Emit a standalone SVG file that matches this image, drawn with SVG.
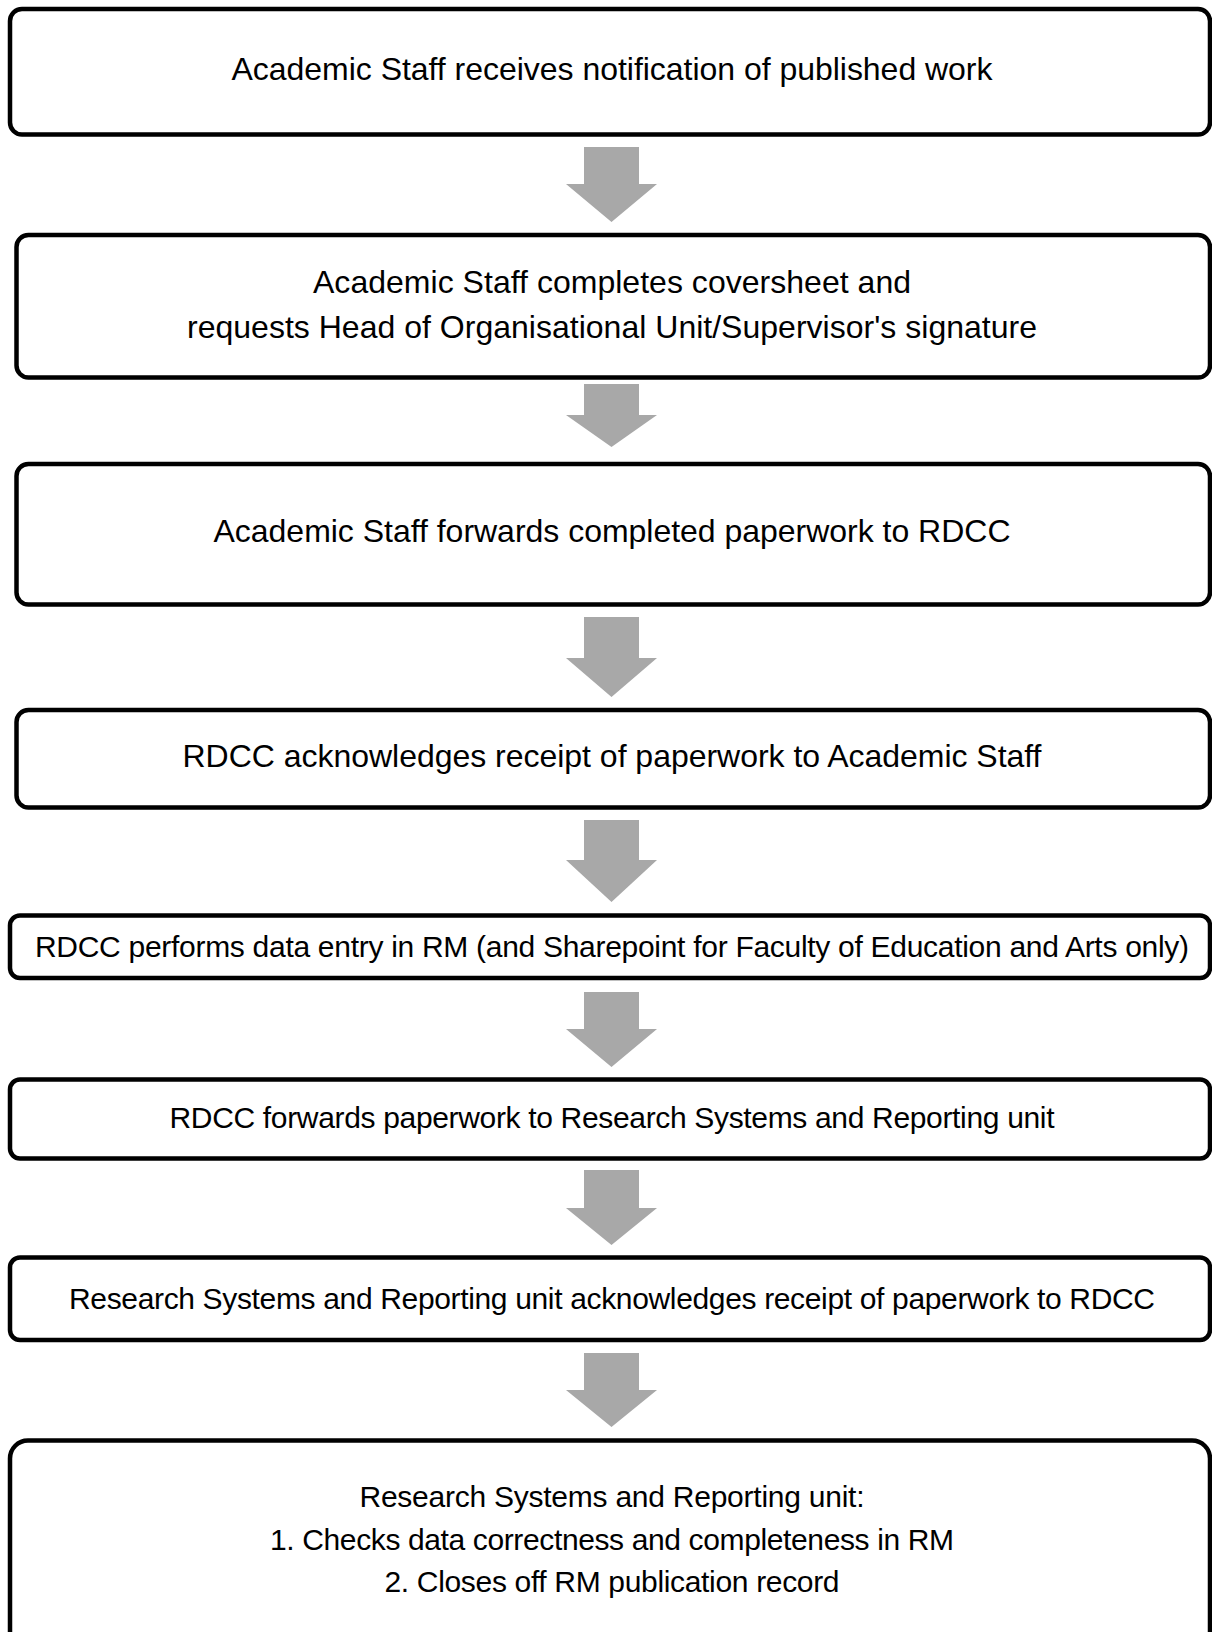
<svg xmlns="http://www.w3.org/2000/svg" width="1212" height="1632" viewBox="0 0 1212 1632">
<style>
.box{fill:#fff;stroke:#000;stroke-width:4.5}
.t{font-family:"Liberation Sans",Arial,sans-serif;font-size:30px;fill:#000;text-anchor:middle}
.big{font-size:32px}
.arr{fill:#a8a8a8}
</style>
<rect width="1212" height="1632" fill="#fff"/>
<g id="connectors">
<polygon class="arr" points="584,147 639,147 639,184 657,184 611.5,222 566,184 584,184"/>
<polygon class="arr" points="584,384 639,384 639,415 657,415 611.5,447 566,415 584,415"/>
<polygon class="arr" points="584,617 639,617 639,658 657,658 611.5,697 566,658 584,658"/>
<polygon class="arr" points="584,820 639,820 639,860 657,860 611.5,902 566,860 584,860"/>
<polygon class="arr" points="584,992 639,992 639,1029 657,1029 611.5,1067 566,1029 584,1029"/>
<polygon class="arr" points="584,1170 639,1170 639,1208 657,1208 611.5,1245 566,1208 584,1208"/>
<polygon class="arr" points="584,1353 639,1353 639,1390 657,1390 611.5,1427 566,1390 584,1390"/>
</g>
<g id="n1">
<rect class="box" x="10" y="9" width="1200" height="125.5" rx="12"/>
<text class="t big" x="612" y="80" textLength="761" lengthAdjust="spacing">Academic Staff receives notification of published work</text>
</g>
<g id="n2">
<rect class="box" x="16.5" y="235" width="1193.5" height="142.5" rx="12"/>
<text class="t big" x="612" y="293" textLength="598" lengthAdjust="spacing">Academic Staff completes coversheet and</text>
<text class="t big" x="612" y="338" textLength="850" lengthAdjust="spacing">requests Head of Organisational Unit/Supervisor's signature</text>
</g>
<g id="n3">
<rect class="box" x="16.5" y="464" width="1193.5" height="140.5" rx="12"/>
<text class="t big" x="612" y="542" textLength="797" lengthAdjust="spacing">Academic Staff forwards completed paperwork to RDCC</text>
</g>
<g id="n4">
<rect class="box" x="16.5" y="710" width="1193.5" height="97.5" rx="12"/>
<text class="t big" x="612" y="767" textLength="859" lengthAdjust="spacing">RDCC acknowledges receipt of paperwork to Academic Staff</text>
</g>
<g id="n5">
<rect class="box" x="10" y="915.5" width="1200" height="62.5" rx="10"/>
<text class="t" x="612" y="957" textLength="1154" lengthAdjust="spacing">RDCC performs data entry in RM (and Sharepoint for Faculty of Education and Arts only)</text>
</g>
<g id="n6">
<rect class="box" x="10" y="1079.5" width="1200" height="79" rx="10"/>
<text class="t" x="612" y="1128" textLength="885" lengthAdjust="spacing">RDCC forwards paperwork to Research Systems and Reporting unit</text>
</g>
<g id="n7">
<rect class="box" x="10" y="1257.5" width="1200" height="82.5" rx="10"/>
<text class="t" x="612" y="1309" textLength="1086" lengthAdjust="spacing">Research Systems and Reporting unit acknowledges receipt of paperwork to RDCC</text>
</g>
<g id="n8">
<rect class="box" x="10" y="1440.5" width="1200" height="210" rx="18"/>
<text class="t" x="612" y="1507" textLength="505" lengthAdjust="spacing">Research Systems and Reporting unit:</text>
<text class="t" x="612" y="1550" textLength="684" lengthAdjust="spacing">1. Checks data correctness and completeness in RM</text>
<text class="t" x="612" y="1592" textLength="455" lengthAdjust="spacing">2. Closes off RM publication record</text>
</g>
</svg>
